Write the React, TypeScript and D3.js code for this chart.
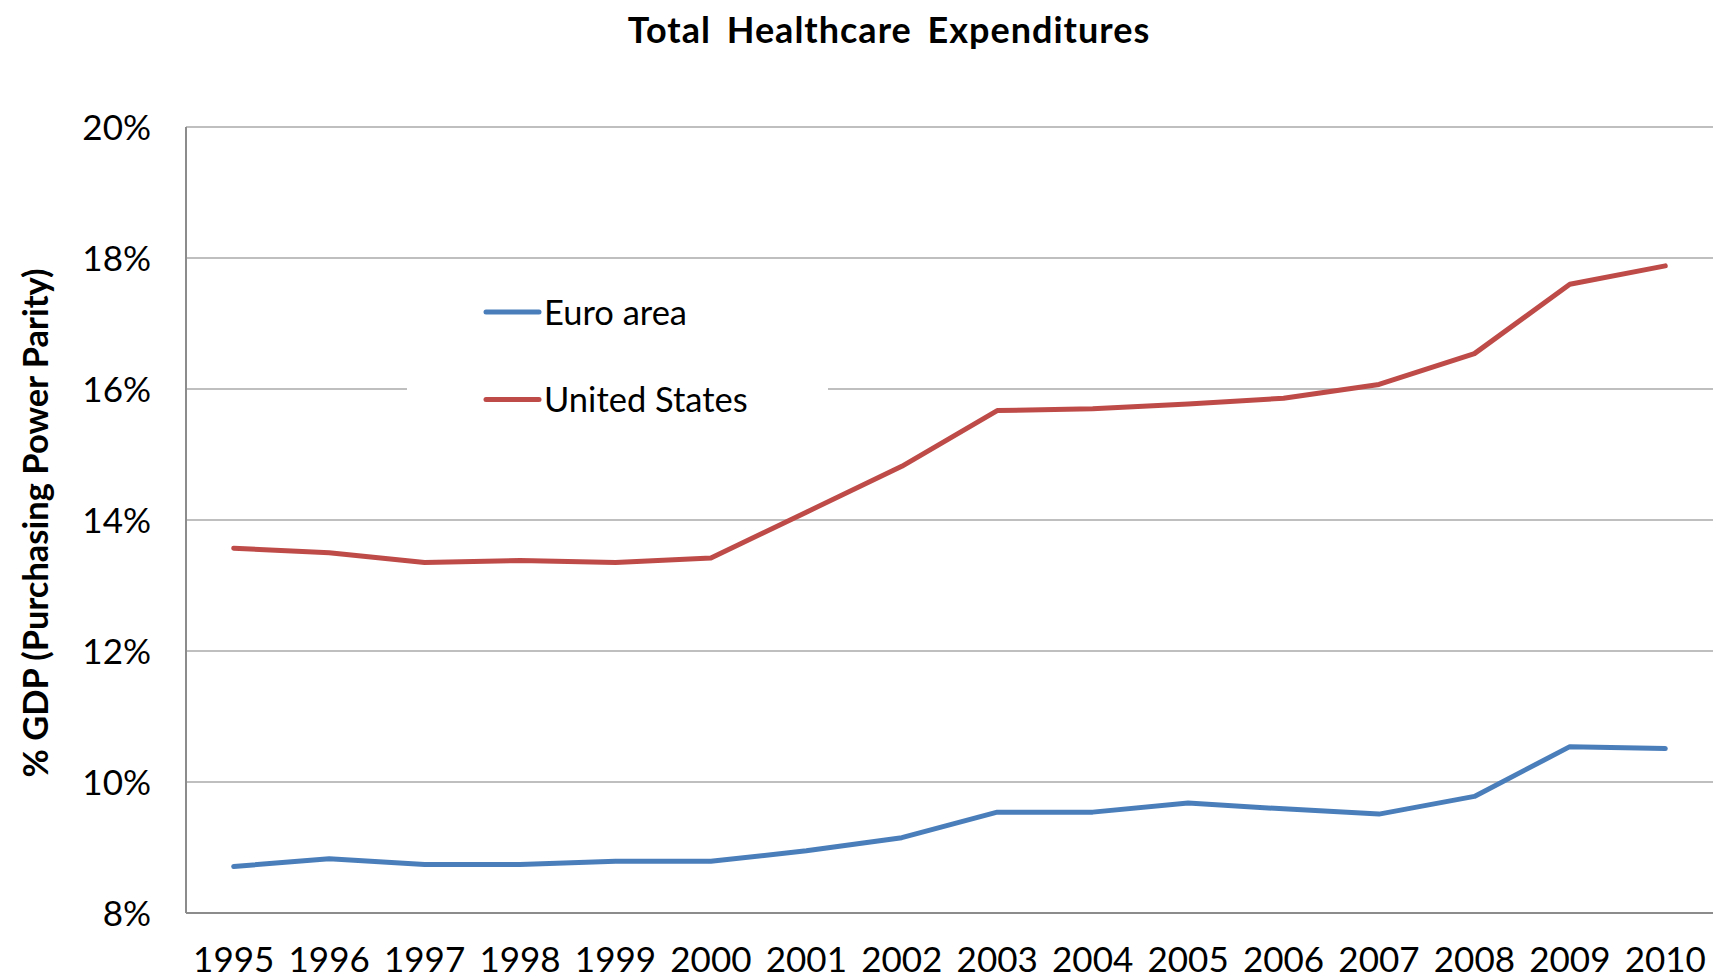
import React from "react";
import * as d3 from "d3";

const years = ["1995","1996","1997","1998","1999","2000","2001","2002","2003","2004","2005","2006","2007","2008","2009","2010"];
const euroArea = [8.71, 8.83, 8.74, 8.74, 8.79, 8.79, 8.95, 9.15, 9.54, 9.54, 9.68, 9.59, 9.51, 9.78, 10.54, 10.51];
const unitedStates = [13.57, 13.50, 13.35, 13.38, 13.35, 13.42, 14.12, 14.82, 15.67, 15.70, 15.77, 15.86, 16.07, 16.54, 17.60, 17.88];
const yTicks = [8, 10, 12, 14, 16, 18, 20];
const seriesNames = ["Euro area", "United States"];
const seriesColors = ["#4A7EBB", "#BE4B48"];

const W = 1716, H = 978;
const left = 186, right = 1713, top = 127, bottom = 913;
const FONT = "Lato, 'Open Sans', sans-serif";

export default function App() {
  const x = d3.scaleBand<string>().domain(years).range([left, right]).padding(0);
  const y = d3.scaleLinear().domain([8, 20]).range([bottom, top]);
  const cx = (yr: string) => (x(yr) as number) + x.bandwidth() / 2;
  const line = d3.line<number>().x((_, i) => cx(years[i])).y((v) => y(v));
  const series = [euroArea, unitedStates];

  return (
    <svg width={W} height={H} style={{ position: "absolute", left: 0, top: 0, background: "#fff" }} fontFamily={FONT}>
      <rect x={0} y={0} width={W} height={H} fill="#fff" />
      {yTicks.filter((t) => t !== 8).map((t) => (
        <line key={t} x1={left} x2={right} y1={y(t)} y2={y(t)} stroke="#BFBFBF" strokeWidth={2} />
      ))}
      <line x1={left} x2={left} y1={top} y2={bottom} stroke="#8C8C8C" strokeWidth={2} />
      <line x1={left} x2={right} y1={bottom} y2={bottom} stroke="#8C8C8C" strokeWidth={2} />
      {yTicks.map((t) => (
        <text key={t} x={151} y={y(t) + 12.5} textAnchor="end" fontSize={35} fill="#000">{t}%</text>
      ))}
      {years.map((yr) => (
        <text key={yr} x={cx(yr)} y={972} textAnchor="middle" fontSize={35} fill="#000">{yr}</text>
      ))}
      <text x={889} y={43} textAnchor="middle" fontSize={36} fontWeight="bold" wordSpacing={6} letterSpacing={1} fill="#000">Total Healthcare Expenditures</text>
      <text transform={`translate(34, 523) rotate(-90)`} textAnchor="middle" dominantBaseline="central" fontSize={34.5} fontWeight="bold" fill="#000">% GDP (Purchasing Power Parity)</text>
      {series.map((s, i) => (
        <path key={i} d={line(s) as string} fill="none" stroke={seriesColors[i]} strokeWidth={5} strokeLinejoin="round" strokeLinecap="round" />
      ))}
      <rect x={407} y={272} width={421} height={165} fill="#fff" />
      {seriesNames.map((n, i) => {
        const ly = i === 0 ? 312 : 399.5;
        return (
          <g key={n}>
            <line x1={486} x2={539} y1={ly} y2={ly} stroke={seriesColors[i]} strokeWidth={5} strokeLinecap="round" />
            <text x={544} y={ly + 12.5} fontSize={34.5} fill="#000">{n}</text>
          </g>
        );
      })}
    </svg>
  );
}
